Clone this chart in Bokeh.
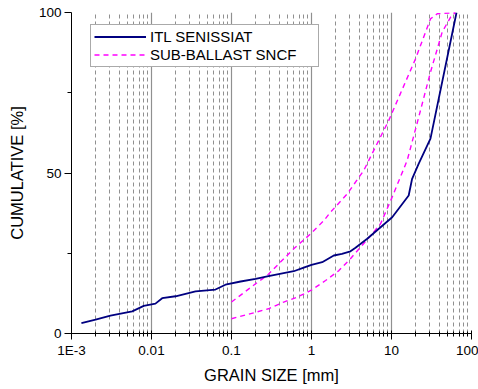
from bokeh.plotting import figure
from bokeh.models import FixedTicker, Legend, LegendItem
from bokeh.embed import file_html
from bokeh.resources import INLINE

# ---- data ----
itl_x = [0.00133, 0.002, 0.00307, 0.00574, 0.008, 0.0112, 0.0136, 0.02, 0.0355, 0.063,
         0.084, 0.13, 0.2, 0.29, 0.6, 0.8, 1.0, 1.36, 1.9, 2.4, 3.07, 3.55, 4.97, 10.2,
         16.4, 18.1, 21.9, 30.7, 65]
itl_y = [3.2, 4.3, 5.6, 6.9, 8.6, 9.3, 11.0, 11.6, 13.1, 13.7,
         15.2, 16.2, 17.0, 17.9, 19.4, 20.5, 21.4, 22.2, 24.3, 24.8, 25.6, 26.7, 29.5, 36.2,
         43.0, 48.2, 52.9, 60.7, 100]

sb_upper_x = [0.1, 0.2, 0.28, 0.6, 0.98, 1.43, 1.73, 2.8, 4.5, 6.6, 9.25, 20, 30.7, 37.3, 57.4, 63]
sb_upper_y = [9.8, 15.5, 18.1, 26.4, 31.1, 35.2, 37.8, 43.5, 50.8, 59.1, 66.4, 85.6, 98.0, 99.6, 99.9, 100]

sb_lower_x = [0.1, 0.2, 0.29, 0.45, 0.66, 0.98, 1.5, 2.2, 3.07, 4.1, 5.5, 7.3, 10.2, 15.7, 20.9,
              30.7, 43, 54.6, 63]
sb_lower_y = [4.6, 6.6, 7.7, 9.8, 11.3, 13.4, 16.5, 19.6, 23.3, 26.9, 30.5, 34.2, 42.5, 53.9, 65.5,
              81.4, 93.9, 98.5, 100]

x_major = [0.001, 0.01, 0.1, 1, 10, 100]
x_labels = ["1E-3", "0.01", "0.1", "1", "10", "100"]
x_minor = [m * d for d in [0.001, 0.01, 0.1, 1, 10] for m in range(2, 10)]
y_major = [0, 50, 100]
y_minor = [25, 75]

FONT = "Liberation Sans"

p = figure(width=478, height=389, x_axis_type="log", x_range=(0.001, 100), y_range=(0, 100),
           output_backend="svg", toolbar_location=None,
           min_border_left=71, min_border_right=7, min_border_top=12, min_border_bottom=56)
p.outline_line_color = None
p.background_fill_color = "white"
p.border_fill_color = "white"

# x axis
xa = p.xaxis[0]
xa.ticker = FixedTicker(ticks=x_major, minor_ticks=x_minor)
xa.major_label_overrides = {v: s for v, s in zip(x_major, x_labels)}
xa.axis_label = "GRAIN SIZE [mm]"
xa.major_tick_out = 6
xa.major_tick_in = 3
xa.minor_tick_out = 3
xa.minor_tick_in = 2
xa.major_label_standoff = 3
xa.axis_label_standoff = 5

# y axis
ya = p.yaxis[0]
ya.ticker = FixedTicker(ticks=y_major, minor_ticks=y_minor)
ya.axis_label = "CUMULATIVE [%]"
ya.major_tick_out = 7
ya.major_tick_in = 0
ya.minor_tick_out = 4
ya.minor_tick_in = 0
ya.major_label_standoff = 3
ya.axis_label_standoff = 10

for ax in (xa, ya):
    ax.axis_line_color = "black"
    ax.major_tick_line_color = "black"
    ax.minor_tick_line_color = "black"
    ax.major_label_text_font = FONT
    ax.major_label_text_font_size = "13.5px"
    ax.major_label_text_color = "black"
    ax.axis_label_text_font = FONT
    ax.axis_label_text_font_size = "16.5px"
    ax.axis_label_text_font_style = "normal"
    ax.axis_label_text_color = "black"

# grid
p.ygrid.visible = False
p.xgrid.grid_line_color = "#909090"
p.xgrid.grid_line_width = 1.2
p.xgrid.minor_grid_line_color = "#909090"
p.xgrid.minor_grid_line_dash = "4 3"
p.xgrid.minor_grid_line_width = 1

# lines
r_up = p.line(sb_upper_x, sb_upper_y, line_color="#ff00ff", line_width=1.4, line_dash="5 4")
r_lo = p.line(sb_lower_x, sb_lower_y, line_color="#ff00ff", line_width=1.4, line_dash="5 4")
r_itl = p.line(itl_x, itl_y, line_color="#000080", line_width=1.8)

legend = Legend(items=[LegendItem(label="ITL SENISSIAT", renderers=[r_itl]),
                       LegendItem(label="SUB-BALLAST SNCF", renderers=[r_up])],
                location=(19, 266), orientation="vertical",
                padding=3, spacing=1, margin=0,
                glyph_width=52, glyph_height=17, label_height=17, label_width=165,
                label_standoff=4,
                label_text_font=FONT, label_text_font_size="15px", label_text_color="black",
                border_line_color="#555555", border_line_width=1,
                background_fill_color="white", background_fill_alpha=1.0)
p.add_layout(legend)

open("out.html", "w").write(file_html(p, INLINE))
